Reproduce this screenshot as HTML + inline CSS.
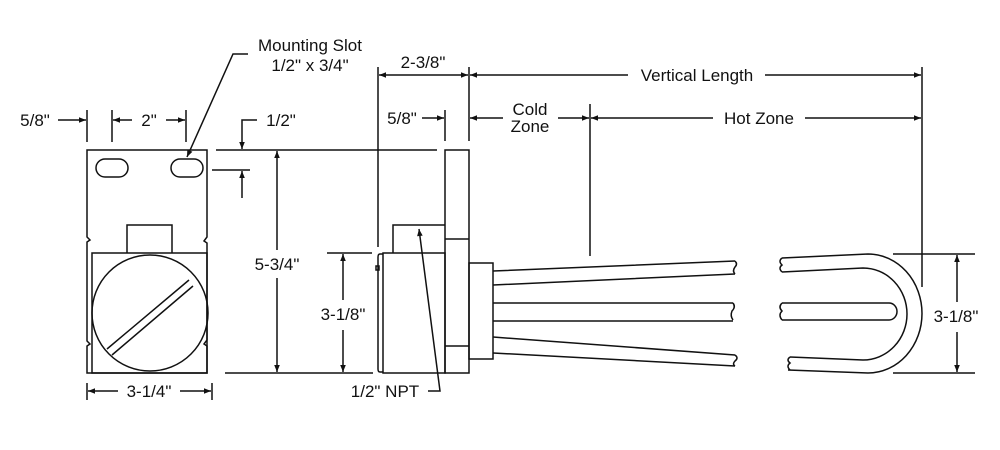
<!DOCTYPE html>
<html><head><style>
html,body{margin:0;padding:0;background:#fff;}
svg{display:block;}
text{font-family:"Liberation Sans",Arial,sans-serif;font-size:17px;fill:#111;}
</style></head><body>
<svg width="1000" height="450" viewBox="0 0 1000 450" xmlns="http://www.w3.org/2000/svg">
<defs>
<marker id="a" viewBox="0 0 10 10" refX="10" refY="5" markerWidth="10" markerHeight="7" orient="auto-start-reverse" markerUnits="userSpaceOnUse"><path d="M0,1 L10,5 L0,9 z" fill="#111"/></marker>
</defs>
<g stroke="#111" stroke-width="1.5" fill="none">
<!-- Left bracket -->
<path d="M87,150 H207 V237 L204,241 L207,243 V340 L204,344 L207,346 V373 H87 V346 L90,344 L87,341 V242 L90,240 L87,237 Z"/>
<rect x="92" y="253" width="115" height="120"/>
<path d="M127,253 V225 H172 V253"/>
<circle cx="150" cy="313" r="58"/>
<path d="M107,349 L189,280 M112,355 L193,286"/>
<rect x="96" y="159" width="32" height="18" rx="9"/>
<rect x="171" y="159" width="32" height="18" rx="9"/>
<!-- left dims -->
<path d="M87,110 V142 M112,110 V142 M186,110 V142"/>
<path d="M58,120 H86" marker-end="url(#a)"/>
<path d="M113,120 H132" marker-start="url(#a)"/>
<path d="M166,120 H185" marker-end="url(#a)"/>
<path d="M87,383 V400 M212,383 V400"/>
<path d="M88,391 H118" marker-start="url(#a)"/>
<path d="M180,391 H211" marker-end="url(#a)"/>
<path d="M187,157 L233,54 H248" marker-start="url(#a)"/>
<path d="M257,120 H242 V149" marker-end="url(#a)"/>
<path d="M242,198 V171" marker-end="url(#a)"/>
<path d="M212,170 H250"/>
<path d="M216,150 H437 M225,373 H373"/>
<path d="M277,250 V151" marker-end="url(#a)"/>
<path d="M277,278 V372" marker-end="url(#a)"/>
<!-- Side view -->
<rect x="445" y="150" width="24" height="223"/>
<path d="M445,239 H469 M445,346 H469"/>
<rect x="383" y="253" width="62" height="120"/>
<path d="M393,253 V225 H445"/>
<path d="M383,254 H380 Q378,254 378,257 V369 Q378,372 380,372 H383"/>
<rect x="376" y="266" width="3" height="4"/>
<rect x="469" y="263" width="24" height="96"/>
<!-- tubes left -->
<path d="M493,271 L735,261 M493,285 L735,274"/>
<path d="M493,303 H733 M493,321 H733"/>
<path d="M493,337 L735,355 M493,353 L735,366"/>
<path d="M735,261 q3,3 0,6 q-3,4 0,7"/>
<path d="M733,303 q3,4 -1,8 q-2,5 1,9"/>
<path d="M735,355 q4,3 0,6 q-3,3 0,5"/>
<!-- right U -->
<path d="M782,258 L868,254 A54,59.5 0 0 1 868,373 L788,370"/>
<path d="M782,272 L863,268 A44,46 0 0 1 863,360 L790,357"/>
<path d="M782,303 H889 A8,8.5 0 0 1 889,320 H782"/>
<path d="M782,258 q-4,3 0,7 q-4,3 0,7"/>
<path d="M782,303 q-4,4 0,8 q-4,4 0,9"/>
<path d="M790,357 q-4,3 0,6 q-4,3 0,7"/>
<!-- top dims -->
<path d="M378,67 V247 M469,67 V141 M445,110 V141 M590,104 V256 M922,67 V287"/>
<path d="M379,75 H468" marker-start="url(#a)" marker-end="url(#a)"/>
<path d="M422,118 H444" marker-end="url(#a)"/>
<path d="M470,118 H503" marker-start="url(#a)"/>
<path d="M558,118 H589" marker-end="url(#a)"/>
<path d="M470,75 H628" marker-start="url(#a)"/>
<path d="M765,75 H921" marker-end="url(#a)"/>
<path d="M591,118 H713" marker-start="url(#a)"/>
<path d="M805,118 H921" marker-end="url(#a)"/>
<path d="M893,254 H975 M893,373 H975"/>
<path d="M957,302 V255" marker-end="url(#a)"/>
<path d="M957,332 V372" marker-end="url(#a)"/>
<path d="M327,253 H372"/>
<path d="M343,300 V254" marker-end="url(#a)"/>
<path d="M343,330 V372" marker-end="url(#a)"/>
<path d="M428,391 H440 L419,229" marker-end="url(#a)"/>
</g>
<g>
<text x="35" y="126" text-anchor="middle">5/8"</text>
<text x="149" y="126" text-anchor="middle">2"</text>
<text x="149" y="397" text-anchor="middle">3-1/4"</text>
<text x="310" y="51" text-anchor="middle">Mounting Slot</text>
<text x="310" y="71" text-anchor="middle">1/2" x 3/4"</text>
<text x="281" y="126" text-anchor="middle">1/2"</text>
<text x="277" y="270" text-anchor="middle">5-3/4"</text>
<text x="343" y="320" text-anchor="middle">3-1/8"</text>
<text x="423" y="68" text-anchor="middle">2-3/8"</text>
<text x="402" y="124" text-anchor="middle">5/8"</text>
<text x="530" y="115" text-anchor="middle">Cold</text>
<text x="530" y="132" text-anchor="middle">Zone</text>
<text x="697" y="81" text-anchor="middle">Vertical Length</text>
<text x="759" y="124" text-anchor="middle">Hot Zone</text>
<text x="956" y="322" text-anchor="middle">3-1/8"</text>
<text x="385" y="397" text-anchor="middle">1/2" NPT</text>
</g>
</svg>
</body></html>
